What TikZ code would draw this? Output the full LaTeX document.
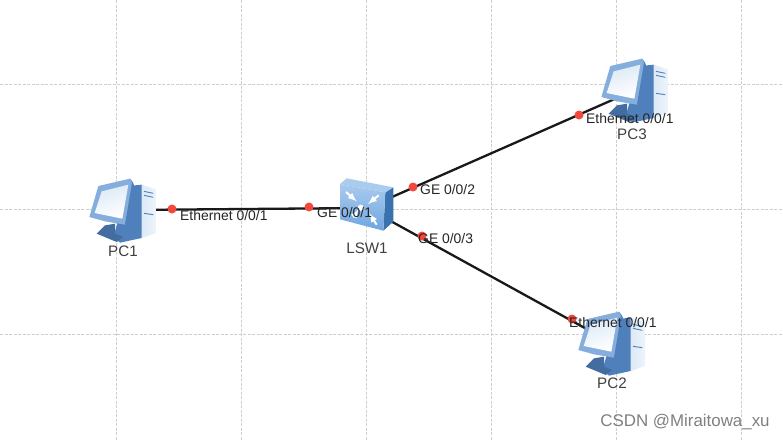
\documentclass[tikz,border=0pt]{standalone}
\usepackage{fontspec}
\setmainfont{Liberation Sans}
\definecolor{gridc}{HTML}{CFCFCF}
\definecolor{pcdark}{HTML}{4F80BC}
\definecolor{pcmid}{HTML}{86AEDC}
\definecolor{pclight}{HTML}{DCE9F6}
\definecolor{swfront}{HTML}{6FA5E0}
\definecolor{swside}{HTML}{3A72AE}
\definecolor{swtop}{HTML}{A9CBEE}
\definecolor{portc}{HTML}{F4483C}
\tikzset{
  device/.style={inner sep=0pt,minimum size=2pt},
  port/.style={circle,fill=portc,inner sep=0pt,minimum size=9pt},
  portlabel/.style={anchor=west,inner sep=0pt,font=\fontsize{13.9}{15}\selectfont,text=black!85},
  devlabel/.style={inner sep=0pt,font=\fontsize{15.2}{17}\selectfont,text=black!75},
  link/.style={line width=2.3pt,black!90},
  pc/.pic={
    \begin{scope}[scale=.3333,shift={(-159,-144)}]
    \shade[left color=pclight,right color=pclight!50!white] (215,68)--(258,82)--(258,213)--(215,228)--cycle;
    \fill[pcdark] (175,72)--(215,68)--(215,228)--(150,242)--(130,225)--cycle;
    \draw[pcdark,line width=.9pt] (222,88)--(250,94) (222,100)--(250,106) (222,154)--(250,158);
    \fill[pcdark!85!black] (105,190)--(135,185)--(135,215)--(160,225)--(140,240)--(80,215)--cycle;
    \fill[pcmid] (85,72)--(180,50)--(190,62)--(165,188)--(105,178)--(58,165)--cycle;
    \fill[pcdark] (180,50)--(192,68)--(170,192)--(165,188)--(186,62)--cycle;
    \shade[top color=pclight,bottom color=white,shading angle=15] (95,88)--(175,68)--(157,170)--(74,153)--cycle;
    \end{scope}
  },
  sw/.pic={
    \begin{scope}[scale=.3333,shift={(-201,-144)}]
    \fill[swside] (256,97)--(280,82)--(280,185)--(250,212)--cycle;
    \fill[swtop] (120,72)--(140,55)--(280,82)--(256,97)--cycle;
    \shade[top color=swtop,bottom color=swfront] (120,72)--(256,97)--(250,212)--(120,178)--cycle;
    \draw[white,line width=2pt,-latex] (138,96)--(170,124);
    \draw[white,line width=2pt,-latex] (236,106)--(204,132);
    \draw[white,line width=2pt,-latex] (160,172)--(176,148);
    \draw[white,line width=2pt,-latex] (230,194)--(208,160);
    \fill[white] (182,143) circle (9);
    \end{scope}
  }
}
\begin{document}
\begin{tikzpicture}[x=1pt,y=-1pt]
\useasboundingbox (0,0) rectangle (783,440);
\fill[white] (0,0) rectangle (783,440);
% grid
\foreach \gx in {116,241,366,491,616,741} \draw[gridc,line width=.8pt,dash pattern=on 3pt off 1.5pt] (\gx,0)--(\gx,440);
\foreach \gy in {84,209,334} \draw[gridc,line width=.8pt,dash pattern=on 3pt off 1.5pt] (0,\gy)--(783,\gy);
\node[device] (pc1) at (123,210) {};
\node[device] (lsw1) at (367,208) {};
\node[device] (pc3) at (635,90) {};
\node[device] (pc2) at (612,343) {};
\draw[link] (pc1)--(lsw1);
\draw[link] (lsw1)--(pc3);
\draw[link] (lsw1)--(pc2);
\pic at (pc1) {pc};
\pic at (lsw1) {sw};
\pic at (pc3) {pc};
\pic at (pc2) {pc};
\node[port] (p1) at (172,209) {};
\node[port] (p2) at (309,207) {};
\node[port] (p3) at (413,187) {};
\node[port] (p4) at (422,236) {};
\node[port] (p5) at (579,115) {};
\node[port] (p6) at (572,319) {};
\node[portlabel] (e1) at (180,215.5) {Ethernet 0/0/1};
\node[portlabel] (g1) at (317,213) {GE 0/0/1};
\node[portlabel] (g2) at (420,190) {GE 0/0/2};
\node[portlabel] (g3) at (418,239) {GE 0/0/3};
\node[portlabel] (e3) at (586,119) {Ethernet 0/0/1};
\node[portlabel] (e2) at (569,323) {Ethernet 0/0/1};
\node[devlabel] (l1) at (123,251) {PC1};
\node[devlabel] (l2) at (612,383) {PC2};
\node[devlabel] (l3) at (632,134) {PC3};
\node[devlabel] (l4) at (367,248) {LSW1};
\node[inner sep=0pt,font=\fontsize{16.9}{18}\selectfont,text=black!50] (mark) at (685,422) {CSDN @Miraitowa\_xu};
\end{tikzpicture}
\end{document}
